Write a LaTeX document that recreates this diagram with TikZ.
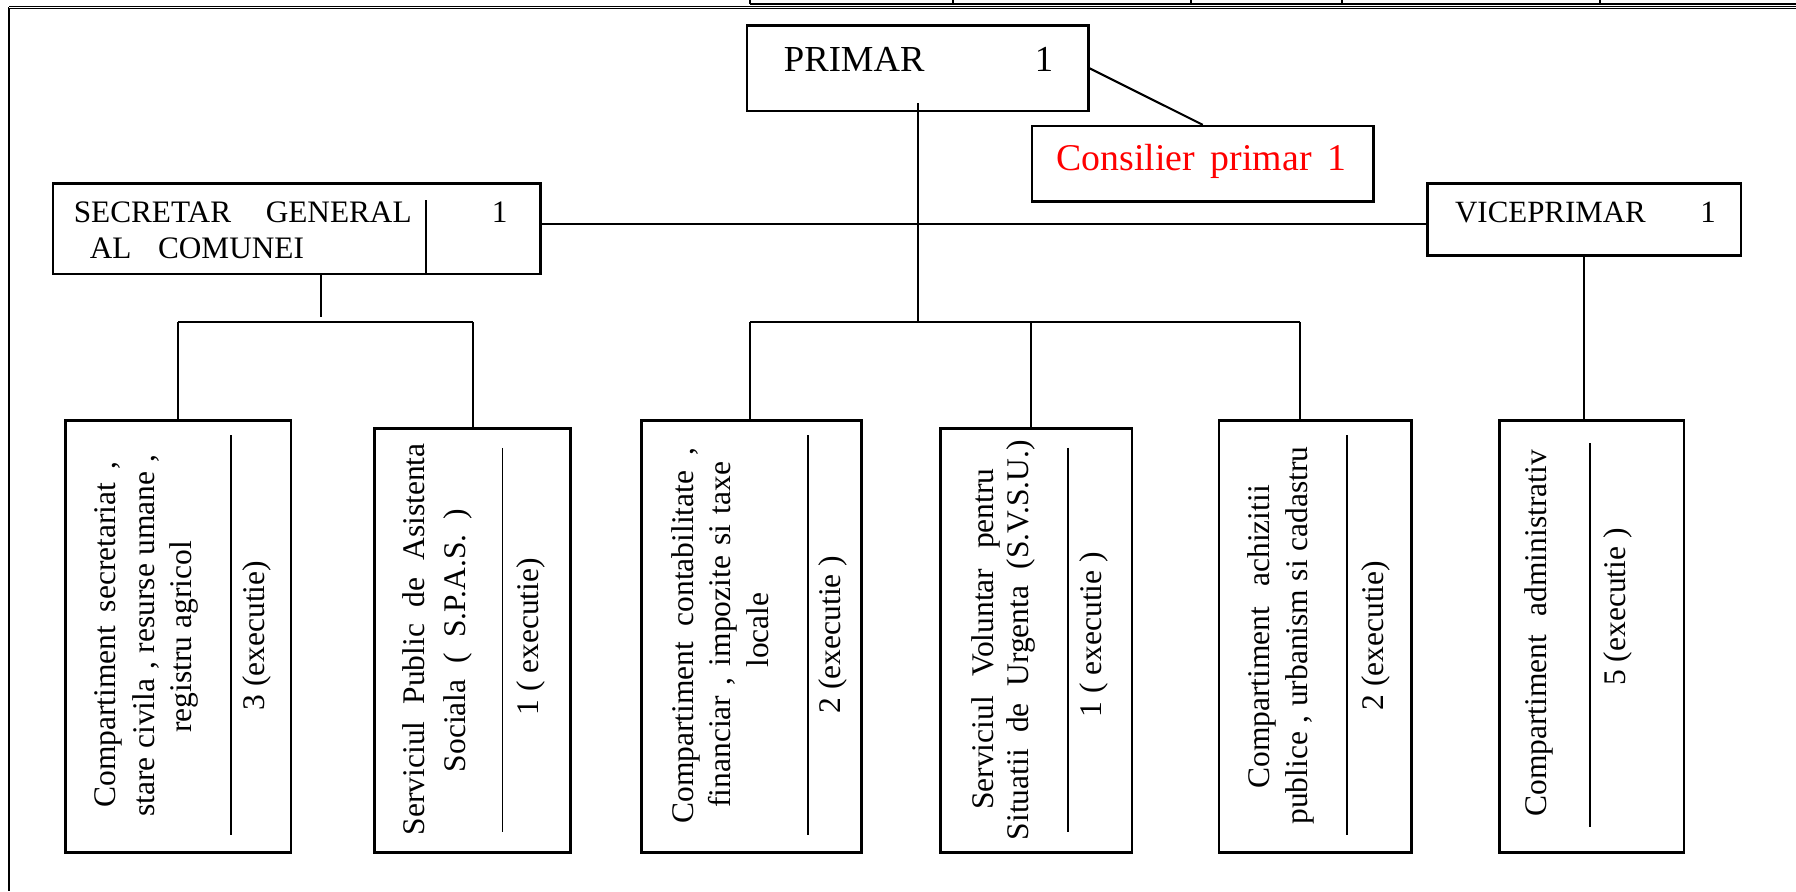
\documentclass[tikz,border=0pt]{standalone}
\usepackage{fontspec}
\setmainfont{Liberation Serif}
\newcommand{\jline}[2]{\makebox[#1][s]{#2}}
\begin{document}
\begin{tikzpicture}[x=0.5pt,y=-0.5pt,
  box/.style={draw, line width=1.1pt, inner sep=0pt, anchor=north west},
  conn/.style={line width=0.9pt},
  sepline/.style={line width=0.7pt},
  lbl/.style={font=\fontsize{13.65}{16}\selectfont, inner sep=0pt, anchor=base west},
  vlbl/.style={font=\fontsize{13.75}{16}\selectfont, inner sep=0pt, anchor=base, rotate=90}]
\useasboundingbox (0,0) rectangle (1568,778);
% frame and table fragment
\draw[line width=0.9pt] (8,6.3) -- (8,778);
\draw[double, line width=0.45pt, double distance=0.6pt] (8,6.3) -- (1568,6.3);
\draw[line width=1pt] (655,3.2) -- (1568,3.2);
\foreach \tx in {655,832,1040,1172,1397}{\draw[line width=0.9pt] (\tx,0) -- (\tx,3.2);}
% top boxes
\node[box, minimum width=149pt, minimum height=37.5pt] (primar) at (651,21) {};
\node[box, minimum width=149pt, minimum height=33pt] (cons) at (900,109) {};
\node[box, minimum width=213pt, minimum height=39.5pt] (sec) at (45,159) {};
\node[box, minimum width=137pt, minimum height=31.5pt] (vice) at (1245,159) {};
% bottom boxes
\node[box, minimum width=98.5pt, minimum height=188.5pt] (b1) at (56,366) {};
\node[box, minimum width=85.5pt, minimum height=185pt] (b2) at (326,373) {};
\node[box, minimum width=96pt, minimum height=188.5pt] (b3) at (559,366) {};
\node[box, minimum width=83.5pt, minimum height=185pt] (b4) at (820,373) {};
\node[box, minimum width=84pt, minimum height=188.5pt] (b5) at (1063,366) {};
\node[box, minimum width=80.5pt, minimum height=188.5pt] (b6) at (1308,366) {};
% texts top
\node[lbl, font=\fontsize{16}{19}\selectfont] (tprimar) at (684,62) {PRIMAR};
\node[lbl, font=\fontsize{16}{19}\selectfont] (nprimar) at (903,62) {1};
\node[lbl, font=\fontsize{16.5}{19}\selectfont, text=red] (tcons) at (922,149) {\jline{126.5pt}{Consilier primar 1}};
\node[lbl] (tsec1) at (64,194) {\jline{147.5pt}{SECRETAR GENERAL}};
\node[lbl] (tsec2) at (78,226) {\jline{93.5pt}{AL COMUNEI}};
\node[lbl] (nsec) at (429,194) {1};
\node[lbl, font=\fontsize{13.5}{16}\selectfont] (tvice) at (1270,194.5) {VICEPRIMAR};
\node[lbl, font=\fontsize{13.5}{16}\selectfont] (nvice) at (1484,194.5) {1};
% sec divider
\draw[line width=1pt] (372,175) -- (sec.south -| 372,0);
% vertical texts
\node[vlbl] (t1a) at (101,554) {\jline{151pt}{Compartiment secretariat ,}};
\node[vlbl] (t1b) at (135,555) {\jline{158pt}{stare civila , resurse umane ,}};
\node[vlbl] (t1c) at (167.6,556) {registru agricol};
\node[vlbl] (e1) at (231,555) {3 (executie)};
\node[vlbl] (t2a) at (371,558) {\jline{171pt}{Serviciul Public de Asistenta}};
\node[vlbl] (t2b) at (406,559) {\jline{115pt}{Sociala ( S.P.A.S. )}};
\node[vlbl] (e2) at (470,556) {1 ( executie)};
\node[vlbl] (t3a) at (605.7,555) {\jline{164pt}{Compartiment contabilitate ,}};
\node[vlbl] (t3b) at (637.8,554) {\jline{151pt}{financiar , impozite si taxe}};
\node[vlbl] (t3c) at (670.7,550) {locale};
\node[vlbl] (e3) at (734,554) {2 (executie )};
\node[vlbl] (t4a) at (867,558) {\jline{149pt}{Serviciul Voluntar pentru}};
\node[vlbl] (t4b) at (898,559) {\jline{174.5pt}{Situatii de Urgenta (S.V.S.U.)}};
\node[vlbl] (e4) at (962,554) {1 ( executie )};
\node[vlbl] (t5a) at (1108.4,556) {\jline{132.5pt}{Compartiment achizitii}};
\node[vlbl] (t5b) at (1141.6,555) {\jline{165pt}{publice , urbanism si cadastru}};
\node[vlbl] (e5) at (1207.5,555) {2 (executie)};
\node[vlbl] (t6a) at (1350,553) {\jline{160pt}{Compartiment administrativ}};
\node[vlbl] (e6) at (1418.8,530) {5 (executie )};
% separators
\draw[sepline] (201.5,380) -- (201.5,729);
\draw[sepline] (438.7,391) -- (438.7,726);
\draw[sepline] (705.5,380) -- (705.5,729);
\draw[sepline] (932.6,391) -- (932.6,726);
\draw[sepline] (1176,380) -- (1176,729);
\draw[sepline] (1388,387) -- (1388,722);
% connectors
\coordinate (hm) at (0,195.6);
\coordinate (ss) at (280,277);
\coordinate (sb) at (0,281);
\coordinate (s3) at (655,281);
\coordinate (s4) at (900,281);
\coordinate (s5) at (1135,281);
\draw[conn] (primar.east) -- (cons.north);
\draw[conn] ([yshift=4pt]primar.south) -- (primar.south |- sb);
\draw[conn] (sec.east |- hm) -- (vice.west |- hm);
\draw[conn] (sec.south -| ss) -- (ss);
\draw[conn] (b1.north |- sb) -- (b2.north |- sb);
\draw[conn] (b1.north |- sb) -- (b1.north);
\draw[conn] (b2.north |- sb) -- (b2.north);
\draw[conn] (s3) -- (s5);
\draw[conn] (s3) -- (s3 |- b3.north);
\draw[conn] (s4) -- (s4 |- b4.north);
\draw[conn] (s5) -- (s5 |- b5.north);
\draw[conn] (vice.south) -- (vice.south |- b6.north);
\end{tikzpicture}
\end{document}
